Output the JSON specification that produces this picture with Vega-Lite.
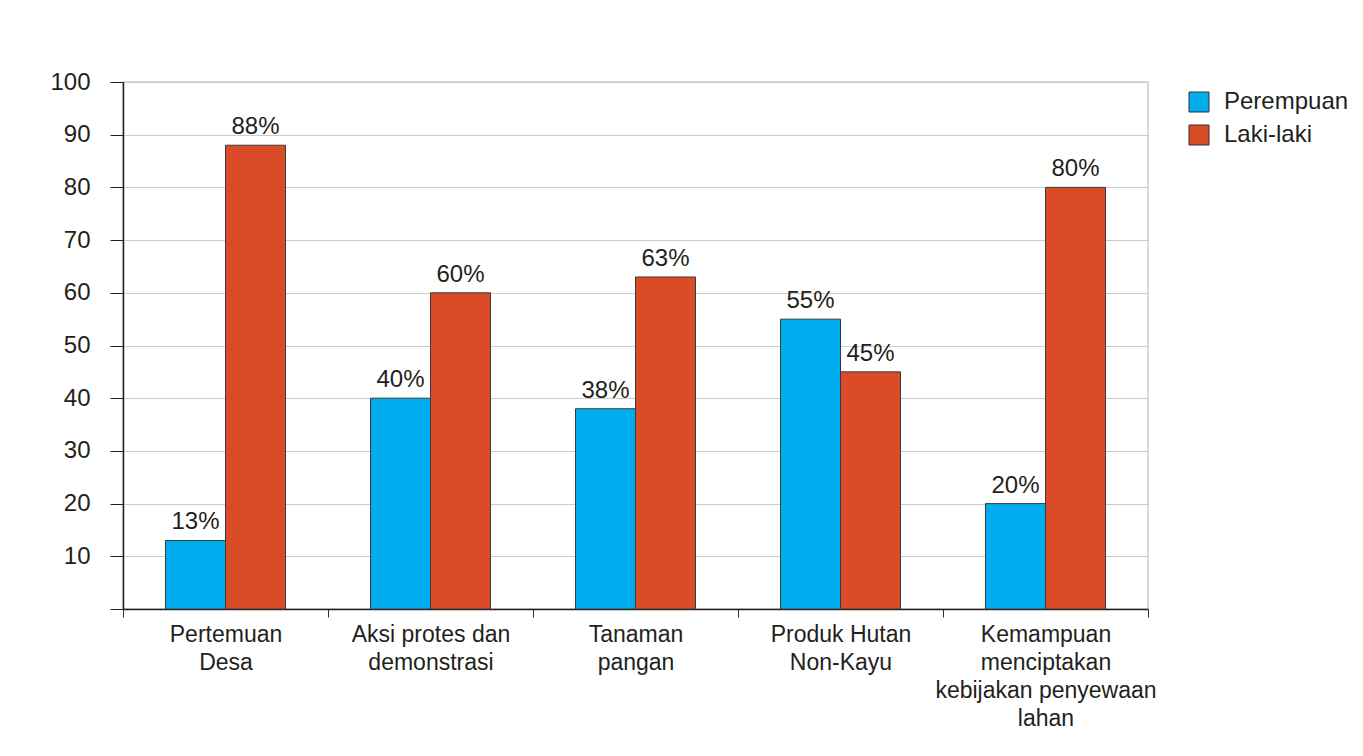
{
  "$schema": "https://vega.github.io/schema/vega-lite/v6.json",
  "width": 1025,
  "height": 527,
  "autosize": {"type": "none"},
  "padding": {"left": 123, "top": 82, "right": 215, "bottom": 147},
  "background": "white",
  "config": {
    "font": "Liberation Sans",
    "view": {"stroke": "#cccccc", "strokeWidth": 1.5}
  },
  "data": {
    "values": [
      {"kategori": "Pertemuan|Desa", "gender": "Perempuan", "nilai": 13, "label": "13%"},
      {"kategori": "Pertemuan|Desa", "gender": "Laki-laki", "nilai": 88, "label": "88%"},
      {"kategori": "Aksi protes dan|demonstrasi", "gender": "Perempuan", "nilai": 40, "label": "40%"},
      {"kategori": "Aksi protes dan|demonstrasi", "gender": "Laki-laki", "nilai": 60, "label": "60%"},
      {"kategori": "Tanaman|pangan", "gender": "Perempuan", "nilai": 38, "label": "38%"},
      {"kategori": "Tanaman|pangan", "gender": "Laki-laki", "nilai": 63, "label": "63%"},
      {"kategori": "Produk Hutan|Non-Kayu", "gender": "Perempuan", "nilai": 55, "label": "55%"},
      {"kategori": "Produk Hutan|Non-Kayu", "gender": "Laki-laki", "nilai": 45, "label": "45%"},
      {"kategori": "Kemampuan|menciptakan|kebijakan penyewaan|lahan", "gender": "Perempuan", "nilai": 20, "label": "20%"},
      {"kategori": "Kemampuan|menciptakan|kebijakan penyewaan|lahan", "gender": "Laki-laki", "nilai": 80, "label": "80%"}
    ]
  },
  "encoding": {
    "x": {
      "field": "kategori",
      "type": "nominal",
      "sort": null,
      "scale": {"paddingInner": 0, "paddingOuter": 0},
      "axis": {
        "title": null,
        "labelAngle": 0,
        "labelExpr": "split(datum.label, '|')",
        "labelFontSize": 23,
        "labelColor": "#231f20",
        "labelLineHeight": 28,
        "labelPadding": 6,
        "labelLimit": 400,
        "tickBand": "extent",
        "tickSize": 8,
        "tickColor": "#333333",
        "domainColor": "#231f20",
        "domainWidth": 1.5,
        "grid": false
      }
    },
    "xOffset": {
      "field": "gender",
      "type": "nominal",
      "sort": ["Perempuan", "Laki-laki"],
      "scale": {"paddingInner": 0, "paddingOuter": 0.708}
    },
    "y": {
      "field": "nilai",
      "type": "quantitative",
      "scale": {"domain": [0, 100], "nice": false},
      "axis": {
        "title": null,
        "values": [0, 10, 20, 30, 40, 50, 60, 70, 80, 90, 100],
        "labelExpr": "datum.value == 0 ? '' : datum.label",
        "labelFontSize": 24,
        "labelColor": "#231f20",
        "labelPadding": 20,
        "tickSize": 13,
        "tickColor": "#231f20",
        "domainColor": "#231f20",
        "domainWidth": 1.5,
        "grid": true,
        "gridColor": "#cccccc",
        "gridWidth": 1.2
      }
    }
  },
  "layer": [
    {
      "mark": {"type": "bar", "stroke": "#3a3a3a", "strokeWidth": 1},
      "encoding": {
        "color": {
          "field": "gender",
          "type": "nominal",
          "scale": {"domain": ["Perempuan", "Laki-laki"], "range": ["#00aeef", "#d94c27"]},
          "legend": {
            "title": null,
            "orient": "none",
            "legendX": 1064,
            "legendY": 8,
            "symbolType": "square",
            "symbolSize": 400,
            "symbolStrokeColor": "#333333",
            "symbolStrokeWidth": 1,
            "symbolOpacity": 1,
            "labelFontSize": 24,
            "labelColor": "#231f20",
            "labelOffset": 13,
            "rowPadding": 9
          }
        }
      }
    },
    {
      "mark": {"type": "text", "baseline": "alphabetic", "dy": -11, "fontSize": 24, "color": "#231f20"},
      "encoding": {"text": {"field": "label"}}
    }
  ]
}
